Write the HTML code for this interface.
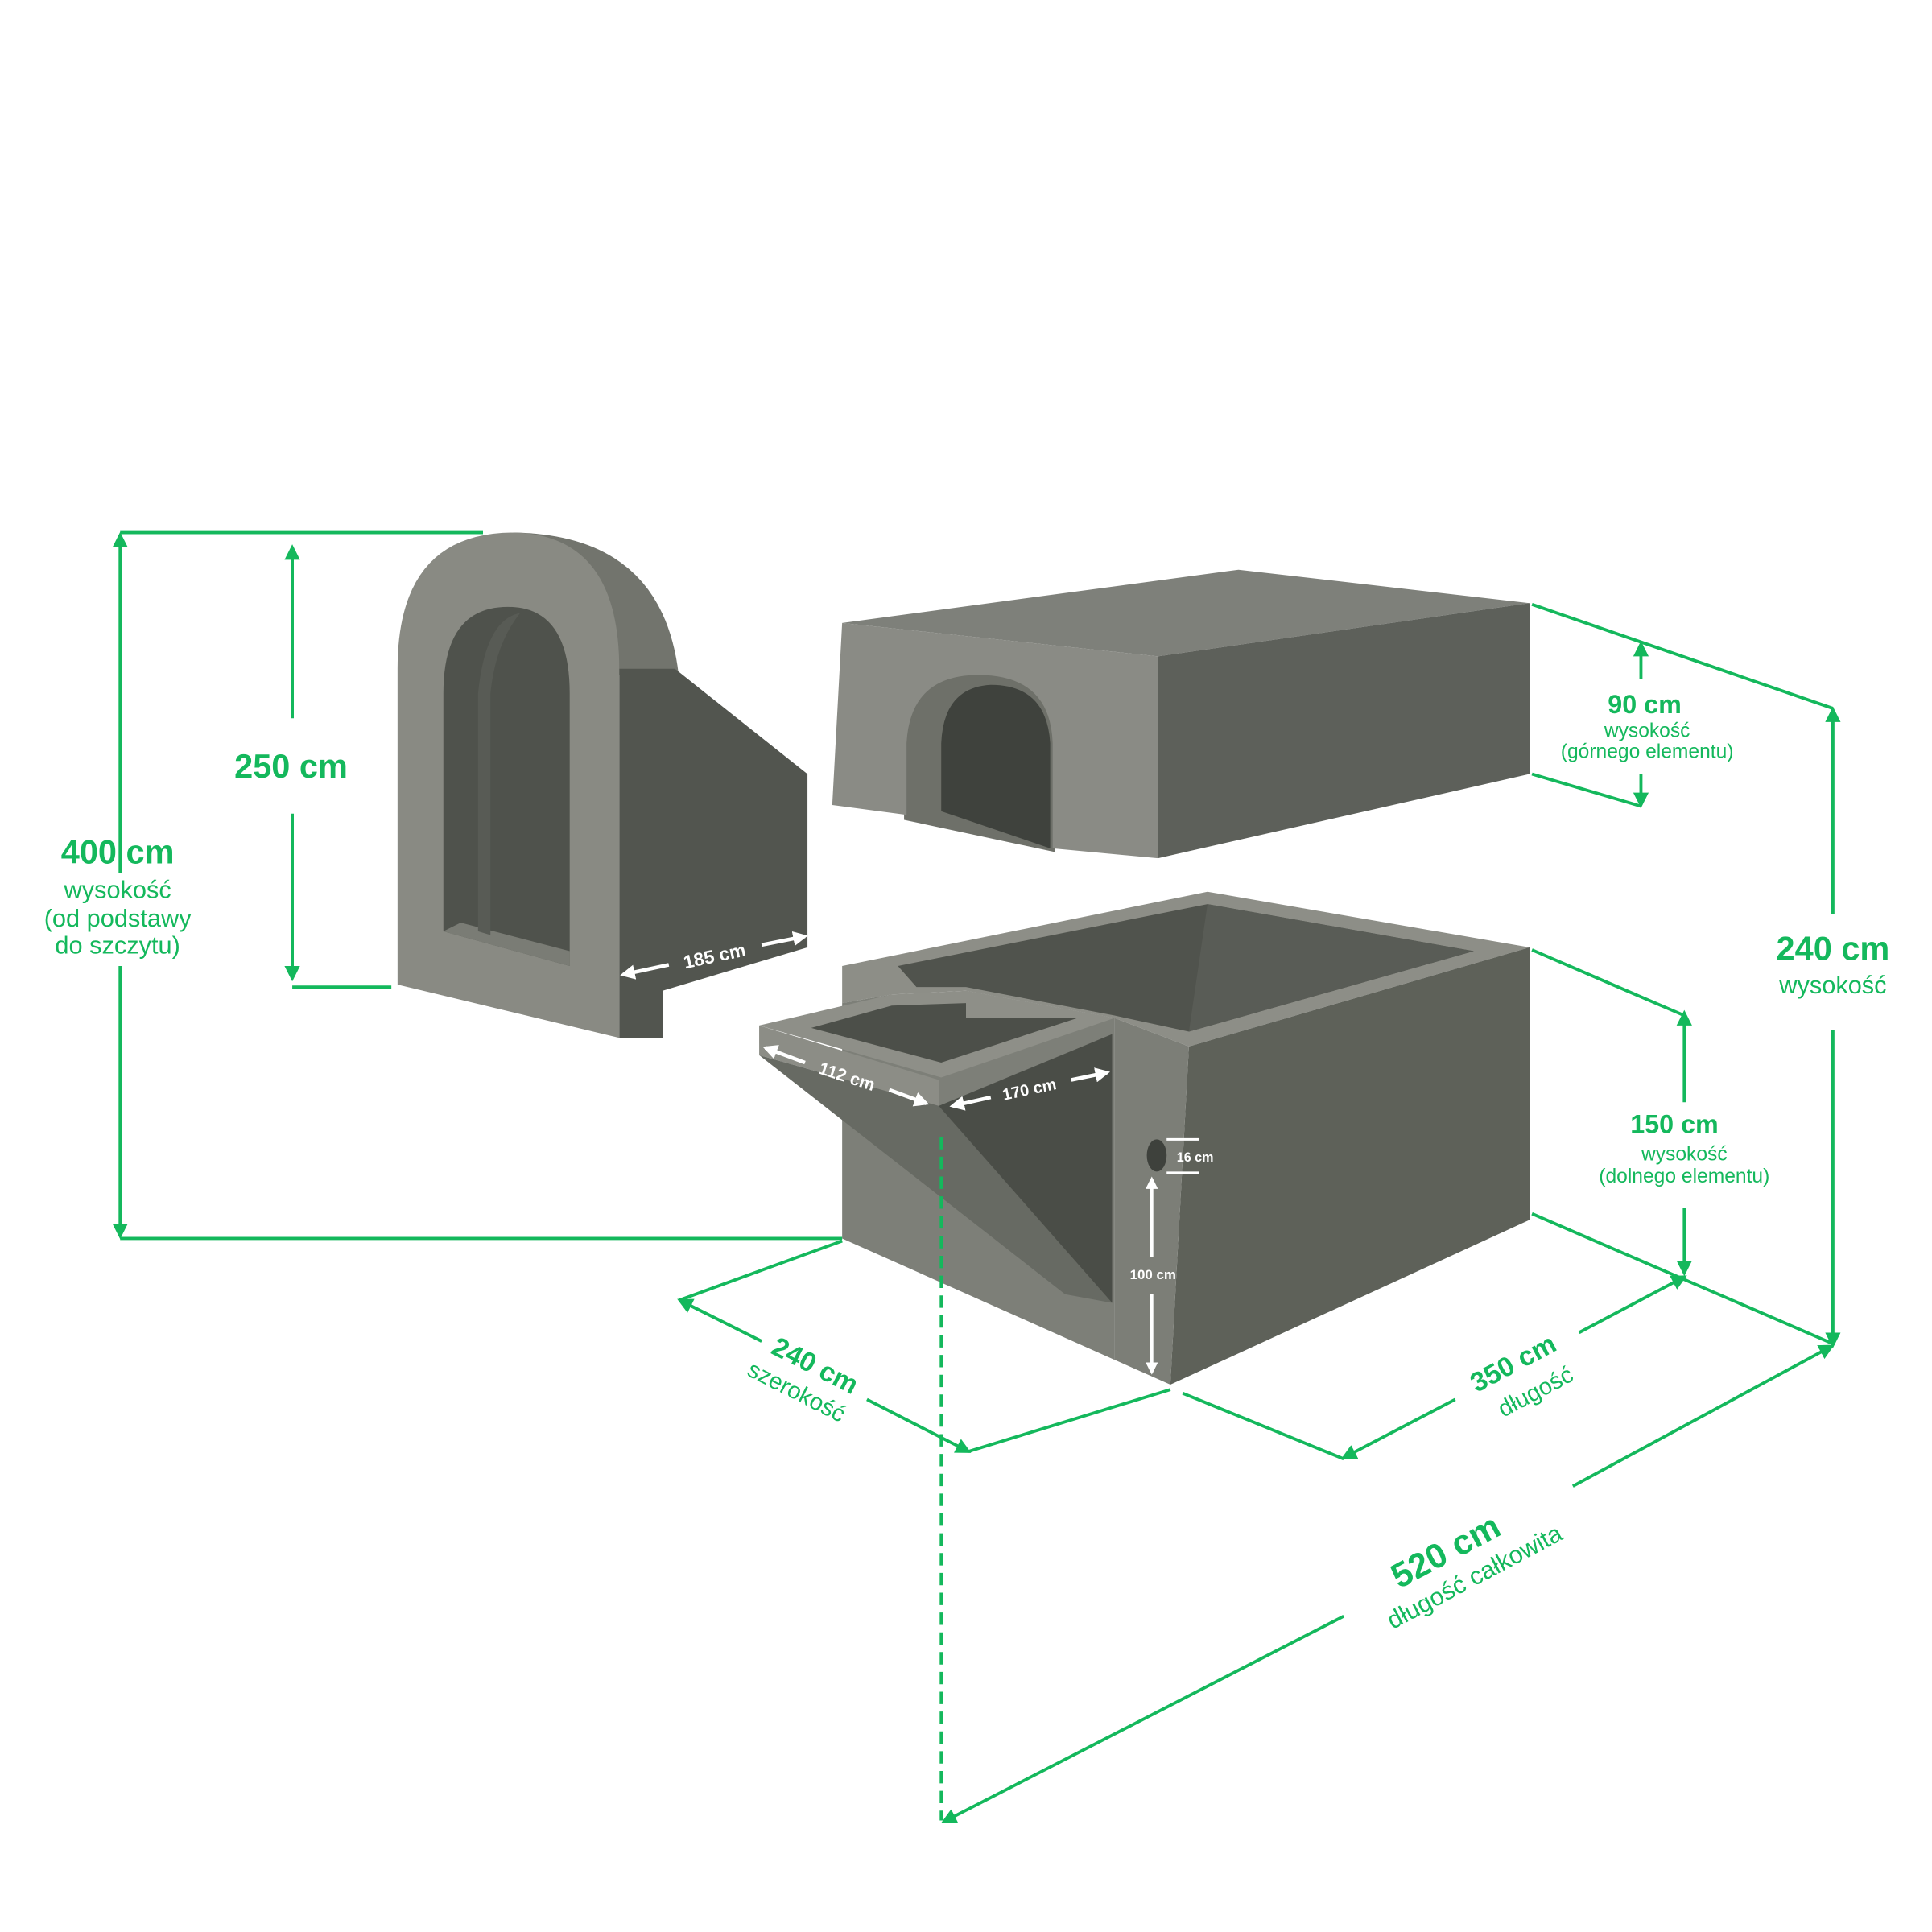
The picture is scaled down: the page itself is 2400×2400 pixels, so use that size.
<!DOCTYPE html>
<html><head><meta charset="utf-8"><style>
html,body{margin:0;padding:0;background:#fff}
svg{display:block}
text{font-family:"Liberation Sans","DejaVu Sans",sans-serif}
.g{fill:#14b85c}
.b{font-weight:bold}
</style></head><body>
<svg width="2400" height="2400" viewBox="0 0 1560 1560" xmlns="http://www.w3.org/2000/svg">
<defs>
<marker id="ag" viewBox="0 0 10 10" refX="8" refY="5" markerWidth="5" markerHeight="5" orient="auto-start-reverse"><path d="M0,0L10,5L0,10z" fill="#14b85c"/></marker>
<marker id="aw" viewBox="0 0 10 10" refX="8" refY="5" markerWidth="4" markerHeight="4" orient="auto-start-reverse"><path d="M0,0L10,5L0,10z" fill="#fff"/></marker>
</defs>
<rect width="1560" height="1560" fill="#fff"/>

<!-- ARCH PIECE -->
<path d="M415,430 Q535,432 548,545 L500,545 Z" fill="#72746d"/>
<path d="M500,540 L545,540 L652,625 L652,765 L535,800 L535,838 L500,838 Z" fill="#52554f"/>
<path d="M321,795 L321,540 Q321,430 415,430 Q500,432 500,540 L500,838 Z" fill="#898a83"/>
<path d="M358,752 L358,560 Q358,490 410,490 Q460,490 460,560 L460,780 Z" fill="#4f524c"/>
<path d="M358,752 L460,780 L460,768 L372,745 Z" fill="#7a7c75"/>
<path d="M386,560 Q392,500 420,495 Q400,520 396,560 L396,755 L386,752 Z" fill="#585b55"/>

<!-- TOP BLOCK -->
<path d="M680,503 L1000,460 L1235,487 L935,530 Z" fill="#7e807a"/>
<path d="M935,530 L1235,487 L1235,625 L935,693 Z" fill="#5d605a"/>
<path d="M730,662 L730,600 Q733,543 790,543 Q850,543 852,600 L852,688 Z" fill="#6e7069"/>
<path d="M760,655 L760,600 Q762,555 800,553 Q845,553 848,600 L848,685 Z" fill="#3f423d"/>
<path d="M680,503 L935,530 L935,693 L850,685 L850,600 Q848,545 790,545 Q735,545 732,600 L732,658 L672,650 Z" fill="#8a8b85"/>

<!-- BOTTOM BOX -->
<path d="M680,780 L975,720 L1235,765 L960,845 L900,822 L780,800 L720,803 L680,810 Z" fill="#8d8e87"/>
<path d="M725,780 L975,730 L1190,768 L960,833 L900,820 L780,797 L740,797 Z" fill="#50534d"/>
<path d="M975,730 L1190,768 L960,833 Z" fill="#595c56"/>
<path d="M960,845 L1235,765 L1235,985 L945,1118 Z" fill="#5e6159"/>
<path d="M900,822 L960,845 L945,1118 L900,1098 Z" fill="#7c7e77"/>
<path d="M680,810 L720,803 L720,830 L780,800 L900,822 L900,1098 L680,1000 Z" fill="#7d7f78"/>
<!-- extension -->
<path d="M613,828 L720,803 L780,800 L900,822 L760,870 Z" fill="#8e8f88"/>
<path d="M655,830 L720,812 L780,810 L780,822 L870,822 L760,858 Z" fill="#4c4f49"/>
<path d="M613,828 L758,872 L758,893 L613,852 Z" fill="#8c8d86"/>
<path d="M613,852 L758,893 L898,1052 L860,1045 Z" fill="#676a63"/>
<path d="M758,893 L898,835 L898,1052 Z" fill="#4a4d47"/>
<ellipse cx="934" cy="933" rx="8" ry="13" fill="#3e413c"/>

<!-- GREEN DIMENSIONS -->
<g stroke="#14b85c" stroke-width="2.5" fill="none">
<line x1="97" y1="430" x2="390" y2="430"/>
<line x1="97" y1="1000" x2="680" y2="1000"/>
<line x1="97" y1="705" x2="97" y2="432" marker-end="url(#ag)"/>
<line x1="97" y1="780" x2="97" y2="998" marker-end="url(#ag)"/>
<line x1="236" y1="580" x2="236" y2="442" marker-end="url(#ag)"/>
<line x1="236" y1="657" x2="236" y2="790" marker-end="url(#ag)"/>
<line x1="236" y1="797" x2="316" y2="797"/>
<line x1="1237" y1="488" x2="1480" y2="572"/>
<line x1="1237" y1="625" x2="1325" y2="651"/>
<line x1="1325" y1="548" x2="1325" y2="520" marker-end="url(#ag)"/>
<line x1="1325" y1="625" x2="1325" y2="650" marker-end="url(#ag)"/>
<line x1="1480" y1="738" x2="1480" y2="573" marker-end="url(#ag)"/>
<line x1="1480" y1="832" x2="1480" y2="1086" marker-end="url(#ag)"/>
<line x1="1237" y1="767" x2="1360" y2="820"/>
<line x1="1360" y1="890" x2="1360" y2="818" marker-end="url(#ag)"/>
<line x1="1360" y1="975" x2="1360" y2="1028" marker-end="url(#ag)"/>
<line x1="1237" y1="980" x2="1480" y2="1085"/>
<line x1="955" y1="1125" x2="1085" y2="1178"/>
<line x1="1175" y1="1130" x2="1085" y2="1177" marker-end="url(#ag)"/>
<line x1="1275" y1="1076" x2="1360" y2="1031" marker-end="url(#ag)"/>
<line x1="680" y1="1002" x2="548" y2="1050"/>
<line x1="615" y1="1083" x2="549" y2="1050" marker-end="url(#ag)"/>
<line x1="700" y1="1130" x2="782" y2="1172" marker-end="url(#ag)"/>
<line x1="782" y1="1172" x2="945" y2="1122"/>
<line x1="1085" y1="1305" x2="762" y2="1471" marker-end="url(#ag)"/>
<line x1="1270" y1="1200" x2="1479" y2="1087" marker-end="url(#ag)"/>
<line x1="760" y1="918" x2="760" y2="1470" stroke-dasharray="10,6"/>
</g>

<!-- WHITE DIMENSIONS -->
<g stroke="#fff" stroke-width="3" fill="none">
<line x1="540" y1="779" x2="503" y2="787" marker-end="url(#aw)"/>
<line x1="615" y1="763" x2="650" y2="756" marker-end="url(#aw)"/>
<line x1="650" y1="858" x2="618" y2="846" marker-end="url(#aw)"/>
<line x1="718" y1="880" x2="748" y2="891" marker-end="url(#aw)"/>
<line x1="800" y1="886" x2="769" y2="893" marker-end="url(#aw)"/>
<line x1="865" y1="872" x2="894" y2="866" marker-end="url(#aw)"/>
<line x1="930" y1="1015" x2="930" y2="952" marker-end="url(#aw)" stroke-width="2.5"/>
<line x1="930" y1="1045" x2="930" y2="1108" marker-end="url(#aw)" stroke-width="2.5"/>
<line x1="942" y1="920" x2="968" y2="920" stroke-width="2"/>
<line x1="942" y1="947" x2="968" y2="947" stroke-width="2"/>
</g>
<g fill="#fff" font-weight="bold">
<text x="577" y="777" font-size="15" text-anchor="middle" transform="rotate(-12 577 772)">185 cm</text>
<text x="684" y="874" font-size="14" text-anchor="middle" transform="rotate(18 684 869)">112 cm</text>
<text x="831" y="884" font-size="13" text-anchor="middle" transform="rotate(-12 831 879)">170 cm</text>
<text x="965" y="938" font-size="10.5" text-anchor="middle">16 cm</text>
<text x="931" y="1033" font-size="11" text-anchor="middle">100 cm</text>
</g>

<!-- GREEN TEXT -->
<g class="g" text-anchor="middle">
<text x="95" y="697" font-size="27" class="b">400 cm</text>
<text x="95" y="725" font-size="20">wysokość</text>
<text x="95" y="748" font-size="20">(od podstawy</text>
<text x="95" y="770" font-size="20">do szczytu)</text>
<text x="235" y="628" font-size="27" class="b">250 cm</text>
<text x="1328" y="576" font-size="21" class="b">90 cm</text>
<text x="1330" y="595" font-size="16">wysokość</text>
<text x="1330" y="612" font-size="16">(górnego elementu)</text>
<text x="1480" y="775" font-size="27" class="b">240 cm</text>
<text x="1480" y="802" font-size="20">wysokość</text>
<text x="1352" y="915" font-size="21" class="b">150 cm</text>
<text x="1360" y="937" font-size="16">wysokość</text>
<text x="1360" y="955" font-size="16">(dolnego elementu)</text>
<text x="658" y="1110" font-size="22" class="b" transform="rotate(27 658 1103)">240 cm</text>
<text x="643" y="1130" font-size="19" transform="rotate(27 643 1124)">szerokość</text>
<text x="1222" y="1108" font-size="22" class="b" transform="rotate(-28 1222 1101)">350 cm</text>
<text x="1240" y="1130" font-size="19" transform="rotate(-28 1240 1124)">długość</text>
<text x="1167" y="1262" font-size="28" class="b" transform="rotate(-28 1167 1252)">520 cm</text>
<text x="1190" y="1280" font-size="20" transform="rotate(-28 1190 1272)">długość całkowita</text>
</g>
</svg>
</body></html>
